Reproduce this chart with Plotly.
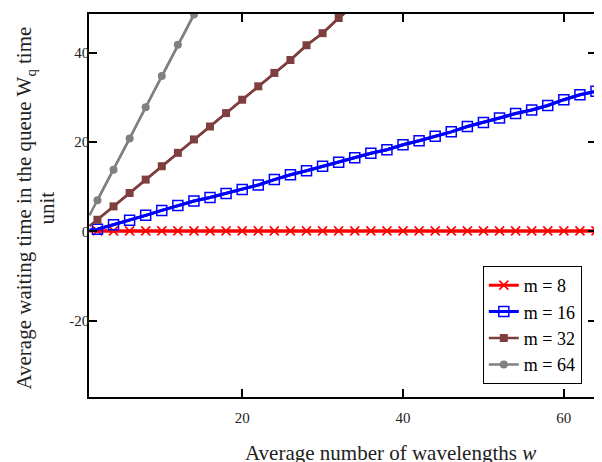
import plotly.graph_objects as go

# Average number of wavelengths w (first point w=1 is line-only, markers at even w)
w_values = [1] + list(range(2, 65, 2))

m8 = [0.1] * len(w_values)
m16 = [0.3, 0.5, 1.5, 2.5, 3.6, 4.7, 5.8, 6.8, 7.6, 8.5, 9.4, 10.4, 11.6, 12.7, 13.6,
       14.6, 15.5, 16.5, 17.5, 18.3, 19.4, 20.3, 21.3, 22.3, 23.5, 24.4, 25.4, 26.4,
       27.2, 28.2, 29.5, 30.6, 31.4]
m32 = [1.2, 2.6, 5.6, 8.6, 11.6, 14.6, 17.6, 20.6, 23.5, 26.5, 29.5, 32.5, 35.5,
       38.4, 41.7, 44.4, 47.8, 50.8]
m64 = [3.6, 7.0, 13.8, 20.8, 27.8, 34.8, 41.8, 48.6, 55.5]

series_names = ["m = 8", "m = 16", "m = 32", "m = 64"]
series_vals = [m8, m16, m32, m64]
colors = ["#FF0000", "#0000FF", "#7F3F3F", "#808080"]
symbols = ["x-thin", "square-open", "square", "circle"]
widths = [3, 3, 2.5, 2.5]

x_ticks = [20, 40, 60]
y_ticks = [-20, 0, 20, 40]
y_ticktext = ["-20", "0", "20", "40"]

fig = go.Figure()
for name, vals, col, sym, lw in zip(series_names, series_vals, colors, symbols, widths):
    xs = w_values[:len(vals)]
    fig.add_trace(go.Scatter(x=xs, y=vals, mode="lines",
                             line=dict(color=col, width=lw), showlegend=False,
                             hoverinfo="skip"))
    mk = dict(symbol=sym, size=8, color=col)
    if sym == "x-thin":
        mk["line"] = dict(width=1.6, color=col)
        mk["size"] = 9
    elif sym == "square-open":
        mk["line"] = dict(width=1.5, color=col)
        mk["size"] = 10
    fig.add_trace(go.Scatter(x=xs[1:], y=vals[1:], mode="lines+markers", name=name,
                             line=dict(color=col, width=lw), marker=mk))

serif = "Liberation Serif"
axis_common = dict(showline=True, linecolor="black", linewidth=1.5, mirror="ticks",
                   ticks="inside", ticklen=8, tickwidth=1.5, tickcolor="black",
                   showgrid=False, zeroline=False,
                   tickfont=dict(family=serif, size=15, color="#222"))

# page body has an 8px margin: the figure is sized/offset to compensate
fig.update_layout(
    width=594, height=454,
    margin=dict(l=81, r=4, t=4, b=65),
    paper_bgcolor="white", plot_bgcolor="white",
    xaxis=dict(range=[0.95, 64], tickvals=x_ticks, ticklabelstandoff=6, **axis_common),
    yaxis=dict(range=[-37.1, 48.7], tickvals=y_ticks, ticktext=y_ticktext,
               ticklabelstandoff=-5, **axis_common),
    legend=dict(x=0.972, y=0.034, xanchor="right", yanchor="bottom",
                bgcolor="white", bordercolor="black", borderwidth=1,
                font=dict(family=serif, size=18, color="black"),
                itemwidth=30, tracegroupgap=0),
    showlegend=True,
    annotations=[
        dict(text="Average number of wavelengths <i>w</i>", xref="paper", yref="paper",
             x=0, y=0, xshift=301, yshift=-56, xanchor="center", yanchor="middle",
             showarrow=False, font=dict(family=serif, size=21, color="#222")),
        dict(text="Average waiting time in the queue W<sub>q</sub> time", xref="paper",
             yref="paper", x=0, y=0.492, xshift=-64, xanchor="center", yanchor="middle",
             textangle=-90, showarrow=False, font=dict(family=serif, size=21, color="#222")),
        dict(text="unit", xref="paper", yref="paper", x=0, y=0.492, xshift=-42,
             xanchor="center", yanchor="middle", textangle=-90, showarrow=False,
             font=dict(family=serif, size=21, color="#222")),
    ],
)

fig.write_html("out.html")
